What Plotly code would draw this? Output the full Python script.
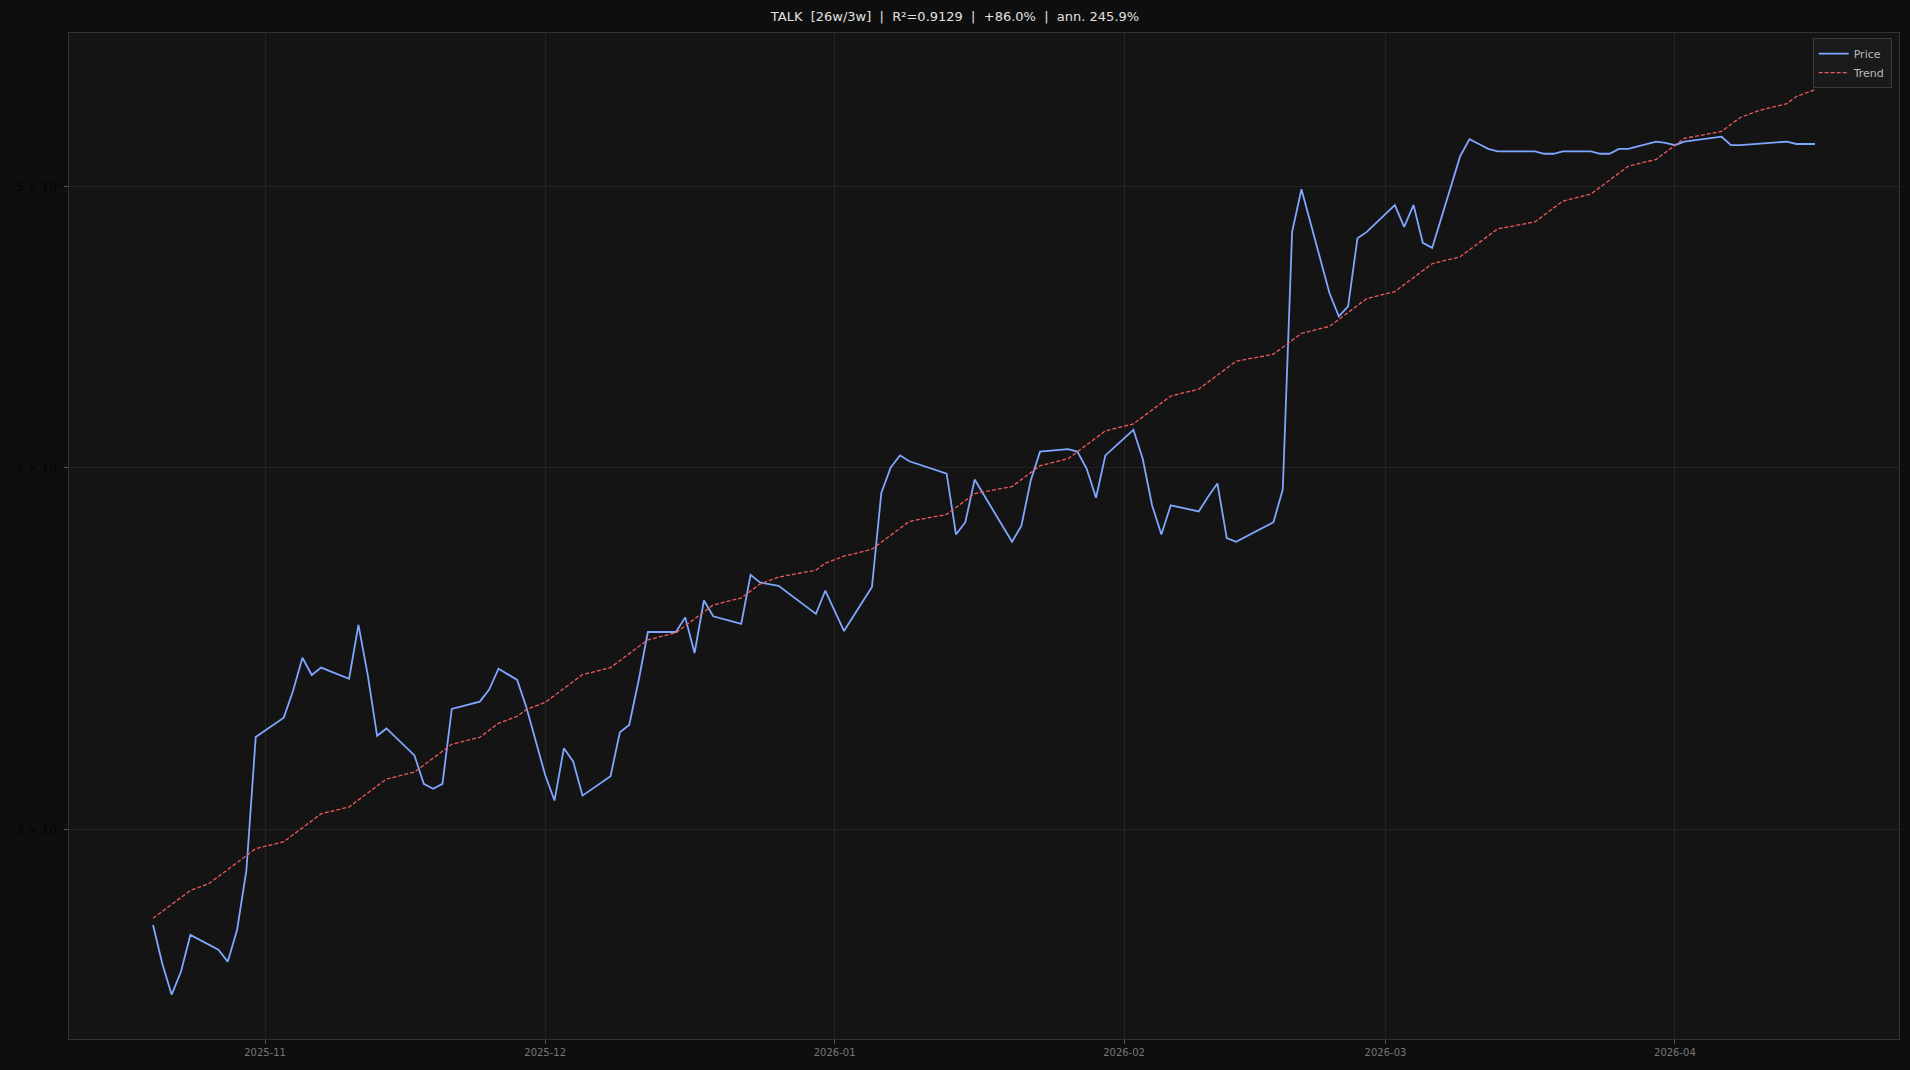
import numpy as np
import pandas as pd
import plotly.graph_objects as go

day_offsets = [0,1,2,3,4,6,7,8,9,10,11,14,15,16,17,18,21,22,23,24,25,28,29,30,31,32,35,36,37,39,40,42,43,44,45,46,49,50,51,52,53,56,57,58,59,60,63,64,65,67,71,72,74,77,78,79,80,81,85,86,87,88,92,93,94,95,98,99,100,101,102,105,106,107,108,109,112,113,114,115,116,120,121,122,123,126,127,128,129,130,133,134,135,136,137,140,141,142,143,144,148,149,150,151,154,155,156,157,158,161,162,163,164,168,169,170,172,175,176,178]
prices = [2.781,2.696,2.631,2.680,2.759,2.738,2.727,2.701,2.770,2.904,3.229,3.279,3.350,3.439,3.392,3.412,3.382,3.530,3.392,3.232,3.251,3.182,3.111,3.099,3.111,3.302,3.321,3.353,3.409,3.379,3.305,3.133,3.070,3.200,3.167,3.082,3.130,3.241,3.260,3.376,3.510,3.510,3.551,3.452,3.599,3.554,3.533,3.673,3.651,3.641,3.561,3.627,3.513,3.638,3.920,4.000,4.039,4.020,3.981,3.793,3.830,3.962,3.771,3.819,3.958,4.051,4.059,4.051,3.996,3.905,4.039,4.122,4.028,3.882,3.793,3.882,3.863,3.908,3.950,3.782,3.771,3.830,3.931,4.824,4.990,4.595,4.511,4.547,4.800,4.824,4.928,4.843,4.928,4.782,4.763,5.123,5.193,5.173,5.153,5.143,5.143,5.133,5.133,5.143,5.143,5.133,5.133,5.153,5.153,5.183,5.178,5.168,5.183,5.203,5.168,5.168,5.173,5.183,5.173,5.173]
start_date = "2025-10-20"
y_tick_vals = [3, 4, 5]
y_tick_text = ["3 × 10⁰", "4 × 10⁰", "5 × 10⁰"]
x_tick_vals = ["2025-11-01", "2025-12-01", "2026-01-01", "2026-02-01", "2026-03-01", "2026-04-01"]

n = min(len(day_offsets), len(prices))
dates = pd.to_datetime(start_date) + pd.to_timedelta(day_offsets[:n], unit="D")
p = np.array(prices[:n])
idx = np.arange(n)
b, a = np.polyfit(idx, np.log(p), 1)
trend = np.exp(a + b * idx)

fig = go.Figure()
fig.add_trace(go.Scatter(x=dates, y=p, mode="lines", name="Price",
                         line=dict(color="#7fa7ff", width=1.8)))
fig.add_trace(go.Scatter(x=dates, y=trend, mode="lines", name="Trend",
                         line=dict(color="#ee5a5a", width=1.3, dash="4px,2px")))
fig.update_layout(
    width=1910, height=1070,
    paper_bgcolor="#0e0e0e", plot_bgcolor="#141414",
    margin=dict(l=69, r=11, t=33, b=31),
    title=dict(text="TALK  [26w/3w]  |  R²=0.9129  |  +86.0%  |  ann. 245.9%",
               x=0.5, xanchor="center", y=0.985, yanchor="middle",
               font=dict(family="DejaVu Sans", size=13, color="#e0e0e0")),
    showlegend=True,
    legend=dict(x=0.996, y=0.995, xanchor="right", yanchor="top",
                bgcolor="#1a1a1a", bordercolor="#3a3a3a", borderwidth=1,
                font=dict(family="DejaVu Sans", size=11, color="#bbbbbb")),
    font=dict(family="DejaVu Sans"),
)
fig.update_xaxes(range=["2025-10-11", "2026-04-25"], tickvals=x_tick_vals,
                 tickformat="%Y-%m", showgrid=True, gridcolor="#242424",
                 tickfont=dict(size=10, color="#777777"), ticks="outside",
                 tickcolor="#555555", ticklen=4,
                 showline=True, linecolor="#333333", mirror=True, zeroline=False)
fig.update_yaxes(type="log", range=[np.log10(2.54), np.log10(5.65)],
                 tickvals=y_tick_vals, ticktext=y_tick_text,
                 showgrid=True, gridcolor="#242424",
                 tickfont=dict(size=12, color="#050505"), ticks="outside",
                 tickcolor="#555555", ticklen=4,
                 showline=True, linecolor="#333333", mirror=True, zeroline=False)
fig.write_html("out.html", config={"displayModeBar": False},
               post_script="document.body.style.margin='0';document.body.style.background='#0e0e0e';")
